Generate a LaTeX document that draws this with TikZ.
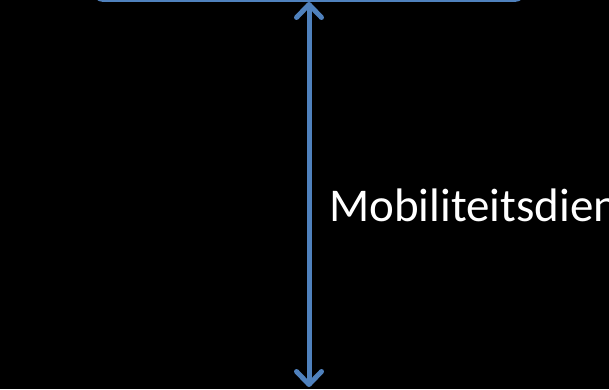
\documentclass[tikz,border=0pt]{standalone}
\usepackage{fontspec}
\setmainfont{Carlito}
\usetikzlibrary{arrows.meta}
\definecolor{boxblue}{RGB}{79,129,189}
\begin{document}
\begin{tikzpicture}[x=1pt,y=1pt]
		\fill[black] (0,0) rectangle (609,389);
		\useasboundingbox (0,0) rectangle (609,389);
		\clip (0,0) rectangle (609,389);
		\node[draw=boxblue,line width=3pt,rounded corners=10pt,minimum width=431pt,minimum height=80pt,anchor=south] (topbox) at (309,387) {};
		\coordinate (bottom) at (309,2);
		\draw[boxblue,line width=5pt,{Straight Barb[length=13pt,width=25pt,round]}-{Straight Barb[length=13pt,width=25pt,round]}] (topbox.south) -- (bottom);
		\node[anchor=base west,inner sep=0pt,text=white,font=\fontsize{47}{56}\selectfont] (label) at (329,168) {Mobiliteitsdien};
		\end{tikzpicture}
\end{document}
